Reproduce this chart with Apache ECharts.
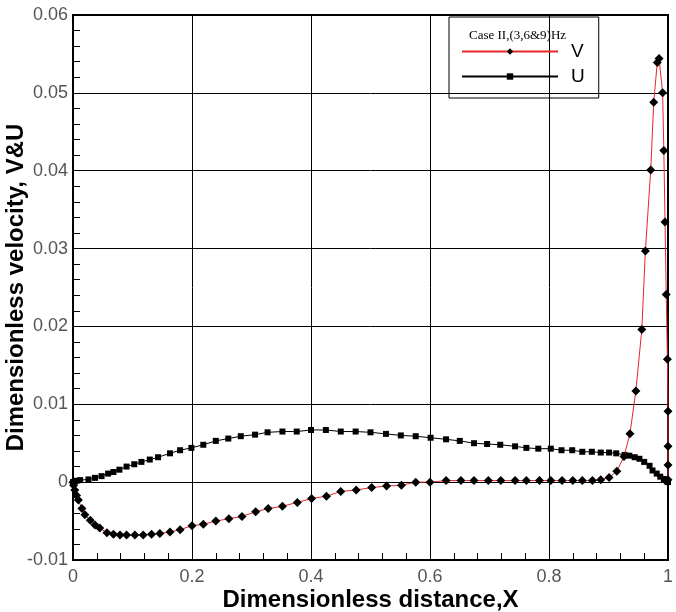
<!DOCTYPE html>
<html>
<head>
<meta charset="utf-8">
<script src="https://cdn.jsdelivr.net/npm/echarts@6/dist/echarts.min.js"></script>
<style>
  html, body { margin: 0; padding: 0; background: #fff; }
  #chart { width: 676px; height: 612px; }
</style>
</head>
<body>
<div id="chart"></div>
<script>
// V 曲线（菱形点）
const vX = [0, 0.001, 0.003, 0.006, 0.009, 0.015, 0.020, 0.029, 0.037, 0.045, 0.057, 0.068, 0.079, 0.090,
  0.104, 0.118, 0.132, 0.146, 0.163, 0.180, 0.200, 0.219, 0.240, 0.262, 0.284, 0.307, 0.328, 0.352, 0.377,
  0.401, 0.426, 0.450, 0.476, 0.502, 0.527, 0.552, 0.576, 0.600, 0.627, 0.652, 0.674, 0.698, 0.719, 0.743,
  0.762, 0.784, 0.803, 0.822, 0.840, 0.856, 0.873, 0.887, 0.901, 0.914, 0.926, 0.936, 0.946, 0.956, 0.962,
  0.971, 0.976, 0.982, 0.985, 0.991, 0.993, 0.995, 0.997, 0.999, 1.0, 1.0, 1.0, 1.0];
const vY = [0, -0.0004, -0.0010, -0.0017, -0.0023, -0.0034, -0.0042, -0.0049, -0.0055, -0.0059, -0.0065, -0.0067, -0.0068, -0.0068,
  -0.0068, -0.0068, -0.0067, -0.0066, -0.0064, -0.0061, -0.0056, -0.0054, -0.0050, -0.0047, -0.0044, -0.0038, -0.0034, -0.0031, -0.0026,
  -0.0021, -0.0018, -0.0012, -0.0010, -0.0007, -0.0005, -0.0004, 0.0000, 0.0000, 0.0002, 0.0002, 0.0002, 0.0002, 0.0002, 0.0002,
  0.0002, 0.0002, 0.0002, 0.0002, 0.0002, 0.0002, 0.0002, 0.0003, 0.0006, 0.0014, 0.0033, 0.0062, 0.0117, 0.0196, 0.0297,
  0.0401, 0.0488, 0.0539, 0.0544, 0.0500, 0.0426, 0.0334, 0.0241, 0.0158, 0.0091, 0.0046, 0.0022, 0.0003];

// U 曲线（方形点）
const uX = [0, 0.003, 0.006, 0.012, 0.026, 0.037, 0.048, 0.059, 0.068, 0.078, 0.090, 0.103, 0.115, 0.129,
  0.143, 0.163, 0.180, 0.199, 0.219, 0.240, 0.261, 0.282, 0.306, 0.327, 0.352, 0.376, 0.400, 0.425, 0.450,
  0.475, 0.500, 0.526, 0.551, 0.576, 0.601, 0.627, 0.650, 0.674, 0.696, 0.718, 0.743, 0.762, 0.782, 0.803,
  0.821, 0.839, 0.856, 0.872, 0.887, 0.901, 0.913, 0.927, 0.935, 0.944, 0.952, 0.960, 0.969, 0.974, 0.981,
  0.987, 0.993, 0.998, 1.0];
const uY = [0, 0.0001, 0.00018, 0.00026, 0.00035, 0.00055, 0.00077, 0.0011, 0.0013, 0.0016, 0.0020, 0.0023, 0.0026, 0.0029,
  0.0032, 0.0037, 0.0041, 0.0044, 0.0048, 0.0053, 0.0056, 0.0059, 0.0061, 0.0064, 0.0065, 0.0065, 0.0067, 0.0067, 0.0065,
  0.0065, 0.0064, 0.0062, 0.0060, 0.0059, 0.0057, 0.0055, 0.0053, 0.0050, 0.0049, 0.0048, 0.0046, 0.0044, 0.0043, 0.0043,
  0.0041, 0.0041, 0.0039, 0.0039, 0.0038, 0.0038, 0.0037, 0.0035, 0.0034, 0.0032, 0.0030, 0.0026, 0.0021, 0.0015, 0.0011,
  0.0007, 0.0004, 0.0001, 0];

const legendTitle = 'Case II,(3,6&9)Hz';
const seriesNames = ['V', 'U'];

const pairs = (xs, ys) => xs.map((x, i) => [x, ys[i]]);
const labelFont = { fontFamily: 'Liberation Sans, Arial', fontSize: 18, color: '#555' };

const chart = echarts.init(document.getElementById('chart'));

const option = {
  backgroundColor: '#fff',
  animation: false,
  grid: {
    left: 73, right: 8, top: 15, bottom: 52,
    outerBoundsMode: 'none',
    containLabel: false,
    show: true, borderColor: '#000', borderWidth: 2
  },
  title: {
    text: legendTitle,
    left: 464, top: 24,
    textStyle: { fontFamily: 'Liberation Serif, Times New Roman', fontSize: 13, fontWeight: 'normal', color: '#000' }
  },
  legend: {
    orient: 'vertical',
    left: 449, top: 17,
    padding: [25, 14, 12, 12],
    width: 153,
    borderColor: '#000', borderWidth: 1,
    itemWidth: 96, itemHeight: 8, itemGap: 6,
    textStyle: { fontFamily: 'Liberation Sans, Arial', fontSize: 19, color: '#000', padding: [0, 0, 0, 8] },
    data: seriesNames
  },
  xAxis: {
    type: 'value',
    min: 0, max: 1, interval: 0.2,
    name: 'Dimensionless distance,X',
    nameLocation: 'middle', nameGap: 28, nameMoveOverlap: false,
    nameTextStyle: { fontFamily: 'Liberation Sans, Arial', fontWeight: 'bold', fontSize: 24, color: '#000' },
    axisLine: { onZero: false, lineStyle: { color: '#000', width: 2 } },
    axisTick: { inside: true, length: 10, lineStyle: { color: '#000' } },
    minorTick: { show: true, splitNumber: 5, length: 7, lineStyle: { color: '#000' } },
    axisLabel: Object.assign({ margin: 8 }, labelFont),
    splitLine: { show: true, lineStyle: { color: '#000', width: 1 } }
  },
  yAxis: {
    type: 'value',
    min: -0.01, max: 0.06, interval: 0.01,
    name: 'Dimensionless velocity, V&U',
    nameLocation: 'middle', nameGap: 45, nameMoveOverlap: false,
    nameTextStyle: { fontFamily: 'Liberation Sans, Arial', fontWeight: 'bold', fontSize: 24, color: '#000' },
    axisLine: { onZero: false, lineStyle: { color: '#000', width: 2 } },
    axisTick: { inside: true, length: 10, lineStyle: { color: '#000' } },
    minorTick: { show: true, splitNumber: 5, length: 7, lineStyle: { color: '#000' } },
    axisLabel: Object.assign({ margin: 5 }, labelFont),
    splitLine: { show: true, lineStyle: { color: '#000', width: 1 } }
  },
  series: [
    {
      name: seriesNames[0],
      type: 'line',
      data: pairs(vX, vY),
      symbol: 'diamond', symbolSize: 9,
      lineStyle: { color: '#e8262a', width: 1 },
      itemStyle: { color: '#000' },
      z: 3
    },
    {
      name: seriesNames[1],
      type: 'line',
      data: pairs(uX, uY),
      symbol: 'rect', symbolSize: 6,
      lineStyle: { color: '#000', width: 1 },
      itemStyle: { color: '#000' },
      z: 2
    }
  ]
};

chart.setOption(option);
</script>
</body>
</html>
